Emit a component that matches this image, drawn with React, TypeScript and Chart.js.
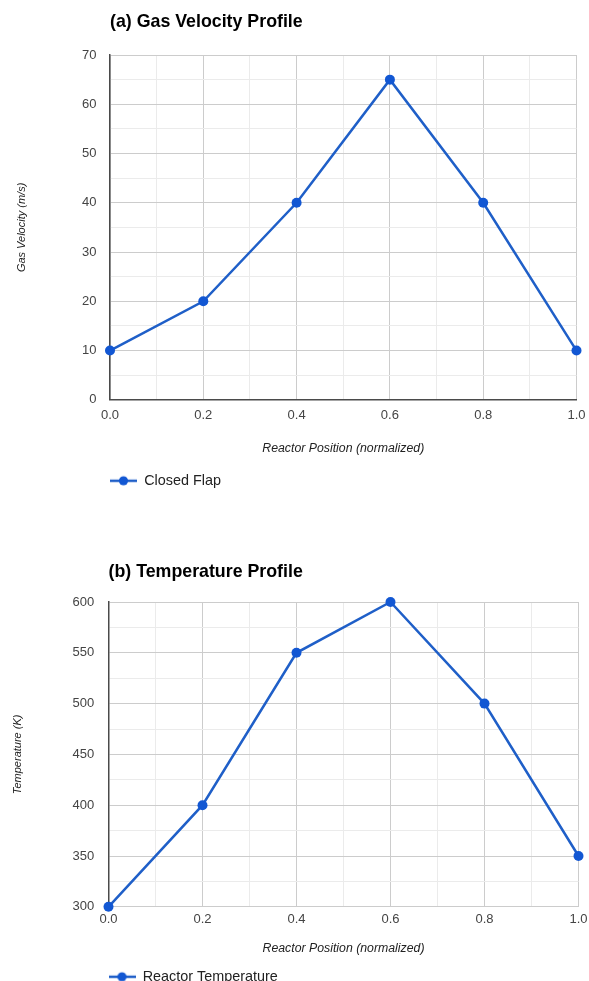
import React, { useEffect, useRef } from "react";
import { Chart, registerables } from "chart.js";

Chart.register(...registerables);

// ---- data ----
const positions = [0.0, 0.2, 0.4, 0.6, 0.8, 1.0];
const gasVelocity = [10, 20, 40, 65, 40, 10];
const temperature = [300, 400, 550, 600, 500, 350];

const velocityTitle = "(a) Gas Velocity Profile";
const temperatureTitle = "(b) Temperature Profile";
const velocityAxisTitle = "Gas Velocity (m/s)";
const temperatureAxisTitle = "Temperature (K)";
const positionAxisTitle = "Reactor Position (normalized)";
const velocitySeriesName = "Closed Flap";
const temperatureSeriesName = "Reactor Temperature";

const FONT = "Arial, 'Liberation Sans', Helvetica, sans-serif";
const LINE_COLOR = "#1f5fc8";
const POINT_COLOR = "#1257d3";
const MAJOR_GRID = "#cccccc";
const MINOR_GRID = "#ebebeb";
const AXIS_DARK = "#4a4a4a";

function makeMarker(): HTMLCanvasElement {
  const c = document.createElement("canvas");
  c.width = 27;
  c.height = 12;
  const ctx = c.getContext("2d")!;
  ctx.strokeStyle = LINE_COLOR;
  ctx.lineWidth = 2.5;
  ctx.beginPath();
  ctx.moveTo(0, 6);
  ctx.lineTo(27, 6);
  ctx.stroke();
  ctx.fillStyle = POINT_COLOR;
  ctx.beginPath();
  ctx.arc(13.5, 6, 4.6, 0, Math.PI * 2);
  ctx.fill();
  return c;
}

type Params = {
  title: string;
  yTitle: string;
  seriesName: string;
  values: number[];
  yMin: number;
  yMax: number;
  yStep: number;
  yMajor: number;
  titlePad: { top: number; bottom: number };
  yWidth: number;
  yTickPad: number;
  yTitlePadTop: number;
  xTickPad: number;
  xScaleHeight: number;
  xTitlePadBottom: number;
  rightPad: number;
  xBaselineDark: boolean;
};

function buildConfig(p: Params): any {
  const marker = makeMarker();
  return {
    type: "line",
    data: {
      datasets: [
        {
          label: p.seriesName,
          data: positions.map((x, i) => ({ x, y: p.values[i] })),
          borderColor: LINE_COLOR,
          backgroundColor: POINT_COLOR,
          pointBackgroundColor: POINT_COLOR,
          pointBorderColor: POINT_COLOR,
          pointBorderWidth: 0,
          pointRadius: 5,
          borderWidth: 2.5,
          tension: 0,
          clip: false,
        },
      ],
    },
    options: {
      animation: false,
      responsive: false,
      layout: { padding: { left: 0, right: p.rightPad, top: 0, bottom: 0 } },
      plugins: {
        title: {
          display: true,
          text: p.title,
          align: "start",
          fullSize: false,
          color: "#000000",
          font: { family: FONT, size: 17.8, weight: "bold", lineHeight: 1.2 },
          padding: p.titlePad,
        },
        legend: {
          display: true,
          position: "bottom",
          align: "start",
          fullSize: false,
          labels: {
            usePointStyle: true,
            pointStyle: marker,
            pointStyleWidth: 27,
            padding: 0,
            color: "#222222",
            font: { family: FONT, size: 14.4 },
          },
        },
        tooltip: { enabled: false },
      },
      scales: {
        x: {
          type: "linear",
          min: 0,
          max: 1,
          afterFit: (s: any) => {
            s.height = p.xScaleHeight;
            s.paddingLeft = 0;
            s.paddingRight = 0;
          },
          ticks: {
            stepSize: 0.1,
            autoSkip: false,
            maxRotation: 0,
            padding: p.xTickPad,
            color: "#444444",
            font: { family: FONT, size: 13 },
            callback: (v: any, i: number) => (i % 2 === 0 ? Number(v).toFixed(1) : ""),
          },
          grid: {
            drawTicks: false,
            color: (ctx: any) => (ctx.index % 2 === 0 ? MAJOR_GRID : MINOR_GRID),
            lineWidth: 1,
          },
          border: {
            display: true,
            color: p.xBaselineDark ? AXIS_DARK : MAJOR_GRID,
            width: p.xBaselineDark ? 1.5 : 1,
          },
          title: {
            display: true,
            text: positionAxisTitle,
            color: "#222222",
            font: { family: FONT, size: 12.3, style: "italic", lineHeight: 1.2 },
            padding: { top: 0, bottom: p.xTitlePadBottom },
          },
        },
        y: {
          type: "linear",
          min: p.yMin,
          max: p.yMax,
          afterFit: (s: any) => {
            s.width = p.yWidth;
          },
          ticks: {
            stepSize: p.yStep,
            autoSkip: false,
            padding: p.yTickPad,
            color: "#444444",
            font: { family: FONT, size: 13 },
            callback: (v: any) => (Number(v) % p.yMajor === 0 ? String(v) : ""),
          },
          grid: {
            drawTicks: false,
            color: (ctx: any) =>
              ctx.tick && ctx.tick.value % p.yMajor === 0 ? MAJOR_GRID : MINOR_GRID,
            lineWidth: 1,
          },
          border: { display: true, color: AXIS_DARK, width: 1.5 },
          title: {
            display: true,
            text: p.yTitle,
            color: "#222222",
            font: { family: FONT, size: 11, style: "italic", lineHeight: 1.2 },
            padding: { top: p.yTitlePadTop, bottom: 0 },
          },
        },
      },
    },
  };
}

function ChartCanvas({ top, height, params }: { top: number; height: number; params: Params }) {
  const ref = useRef<HTMLCanvasElement | null>(null);
  useEffect(() => {
    if (!ref.current) return;
    const chart = new Chart(ref.current, buildConfig(params));
    return () => chart.destroy();
  }, []);
  return (
    <canvas
      ref={ref}
      width={589}
      height={height}
      style={{ position: "absolute", left: 0, top, width: 589, height, display: "block" }}
    />
  );
}

const velocityParams: Params = {
  title: velocityTitle,
  yTitle: velocityAxisTitle,
  seriesName: velocitySeriesName,
  values: gasVelocity,
  yMin: 0,
  yMax: 70,
  yStep: 5,
  yMajor: 10,
  titlePad: { top: 11.0, bottom: 22.64 },
  yWidth: 110,
  yTickPad: 13.5,
  yTitlePadTop: 15.4,
  xTickPad: 8.2,
  xScaleHeight: 73.8,
  xTitlePadBottom: 17.4,
  rightPad: 12.5,
  xBaselineDark: true,
};

const temperatureParams: Params = {
  title: temperatureTitle,
  yTitle: temperatureAxisTitle,
  seriesName: temperatureSeriesName,
  values: temperature,
  yMin: 300,
  yMax: 600,
  yStep: 25,
  yMajor: 50,
  titlePad: { top: 16.8, bottom: 18.84 },
  yWidth: 108.5,
  yTickPad: 14.2,
  yTitlePadTop: 11.4,
  xTickPad: 5.2,
  xScaleHeight: 62.8,
  xTitlePadBottom: 13.9,
  rightPad: 10.5,
  xBaselineDark: false,
};

export default function App() {
  return (
    <div
      style={{
        position: "absolute",
        left: 0,
        top: 0,
        width: 589,
        height: 981,
        overflow: "hidden",
        background: "#ffffff",
      }}
    >
      <ChartCanvas top={0} height={498} params={velocityParams} />
      <ChartCanvas top={545} height={449} params={temperatureParams} />
    </div>
  );
}
